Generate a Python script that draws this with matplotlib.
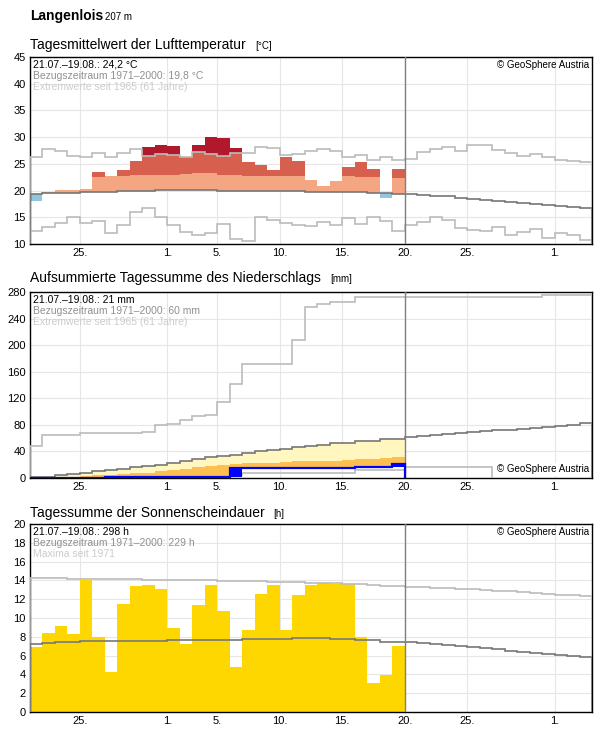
import numpy as np
import matplotlib
matplotlib.use("Agg")
import matplotlib.pyplot as plt

plt.rcParams['font.family'] = ['Liberation Sans', 'DejaVu Sans']

N = 45
tick_pos = [4, 11, 15, 20, 25, 30, 35, 42]
tick_labels = ['25.', '1.', '5.', '10.', '15.', '20.', '25.', '1.']

# temperature
temp = [18.0, 19.7, 20.1, 20.1, 20.3, 23.4, 22.8, 23.8, 25.5, 28.2, 28.6, 28.4, 26.2, 28.6, 30.1,
        29.8, 28.0, 25.3, 24.7, 23.9, 26.2, 25.6, 22.0, 20.9, 21.8, 24.5, 25.4, 24.1, 18.7, 24.0]
temp_mean = [19.4, 19.5, 19.6, 19.6, 19.7, 19.8, 19.8, 19.9, 19.9, 20.0, 20.1, 20.1, 20.1, 20.1, 20.1,
             20.0, 20.0, 20.0, 20.0, 20.0, 19.9, 19.9, 19.8, 19.8, 19.8, 19.8, 19.7, 19.6, 19.5, 19.4,
             19.3, 19.2, 19.0, 18.9, 18.7, 18.5, 18.3, 18.1, 17.9, 17.7, 17.5, 17.3, 17.1, 16.9, 16.7]
temp_p = [20.0, 20.1, 20.2, 20.3, 20.4, 22.6, 22.8, 22.8, 22.9, 23.0, 23.0, 23.0, 23.1, 23.2, 23.2,
          23.0, 23.0, 22.8, 22.8, 22.8, 22.8, 22.8, 22.7, 22.7, 22.7, 22.8, 22.6, 22.6, 22.5, 22.3]
temp_max = [26.3, 27.7, 27.4, 26.5, 26.3, 27.0, 26.3, 27.0, 27.7, 26.4, 26.8, 26.7, 26.2, 27.2, 26.8,
            26.5, 27.0, 27.0, 28.2, 27.9, 26.7, 26.9, 27.5, 27.7, 27.5, 26.3, 26.6, 25.8, 26.3, 25.8,
            26.0, 27.2, 27.8, 28.2, 27.5, 28.6, 28.5, 27.6, 27.0, 26.4, 26.9, 26.3, 25.8, 25.5, 25.3]
temp_min = [12.4, 13.1, 14.0, 15.0, 13.9, 14.3, 12.0, 13.5, 15.9, 16.7, 15.0, 13.6, 12.2, 11.7, 12.0,
            13.7, 11.0, 10.6, 15.0, 14.5, 14.0, 13.6, 13.3, 14.2, 13.5, 14.8, 13.7, 15.0, 14.3, 12.4,
            13.5, 14.2, 15.0, 14.5, 13.0, 12.6, 12.4, 13.2, 11.6, 12.2, 12.8, 11.2, 12.1, 11.6, 10.8]

# precipitation (cumulative)
prec = [0, 0, 0, 0, 0, 0, 1, 1, 1, 1, 1, 1, 1, 1, 1, 2, 15, 15, 15, 15, 15, 15, 15, 15, 15, 15, 16, 16, 17, 21]
prec_p = [0, 1, 1, 2, 3, 4, 5, 6, 7, 8, 10, 12, 14, 16, 18, 20, 21, 22, 22, 23, 24, 25, 26, 25, 26,
          27, 28, 29, 30, 31]
prec_mean = [1, 2, 4, 6, 8, 10, 12, 14, 16, 18, 20, 22, 25, 28, 31, 33, 35, 38, 40, 42, 44, 46, 48, 50, 52,
             53, 55, 56, 58, 59, 61, 63, 65, 66, 67, 69, 71, 72, 73, 74, 75, 77, 78, 80, 83]
prec_max = [48, 64, 64, 64, 67, 67, 67, 67, 67, 70, 80, 82, 88, 94, 95, 115, 141, 171, 171, 171, 171,
            207, 257, 262, 265, 265, 273, 273, 273, 273, 273, 273, 273, 273, 273, 273, 273, 273, 273,
            273, 273, 276, 276, 276, 276]
prec_min = [0, 0, 0, 0, 0, 0, 0, 0, 0, 0, 0, 0, 0, 0, 2, 2, 4, 8, 8, 8, 8, 8, 8, 8, 8, 8, 12, 12, 12, 12,
            16, 16, 16, 16, 16, 16, 16]

# sunshine
sun = [6.9, 8.4, 9.2, 8.3, 14.0, 8.0, 4.3, 11.5, 13.4, 13.5, 13.1, 8.9, 7.2, 11.4, 13.5, 10.7, 4.8, 8.7,
       12.6, 13.5, 8.7, 12.5, 13.5, 13.7, 13.6, 13.6, 8.0, 3.1, 3.9, 7.0]
sun_mean = [7.2, 7.3, 7.4, 7.5, 7.6, 7.6, 7.6, 7.6, 7.6, 7.6, 7.6, 7.7, 7.7, 7.7, 7.7, 7.7, 7.7, 7.8,
            7.8, 7.8, 7.8, 7.9, 7.9, 7.9, 7.8, 7.8, 7.7, 7.7, 7.5, 7.5, 7.4, 7.3, 7.2, 7.1, 7.0, 6.9,
            6.8, 6.7, 6.5, 6.4, 6.3, 6.2, 6.1, 6.0, 5.9]
sun_max = [14.3, 14.3, 14.3, 14.2, 14.2, 14.2, 14.1, 14.1, 14.1, 14.0, 14.0, 14.0, 14.0, 14.0, 14.0,
           13.9, 13.9, 13.9, 13.9, 13.8, 13.8, 13.8, 13.7, 13.7, 13.7, 13.6, 13.6, 13.5, 13.4, 13.4,
           13.3, 13.3, 13.2, 13.2, 13.1, 13.1, 13.0, 12.9, 12.9, 12.8, 12.7, 12.6, 12.5, 12.4, 12.3]

fig = plt.figure(figsize=(5.96, 7.29), dpi=100)
W, H = 596, 729
def mkax(top, bottom):
    return fig.add_axes([30 / W, 1 - bottom / H, (592 - 30) / W, (bottom - top) / H])

ax1 = mkax(57, 244)
ax2 = mkax(292, 478)
ax3 = mkax(524, 712)

edges = np.arange(N + 1)
LG = '#bbbbbb'
DG = '#777777'

def style(ax, yt, ylim):
    ax.set_xlim(0, N)
    ax.set_ylim(*ylim)
    ax.set_yticks(yt)
    ax.set_xticks(tick_pos)
    ax.set_xticklabels(tick_labels)
    ax.tick_params(labelsize=8, length=0, pad=3)
    ax.grid(True, color='#e6e6e6', lw=0.8)
    ax.set_axisbelow(True)
    for s in ax.spines.values():
        s.set_linewidth(1)
    ax.axvline(30, color='#808080', lw=1, zorder=5)

def info(ax, l1, l2, l3):
    ax.text(0.006, 0.985, l1, transform=ax.transAxes, fontsize=7.5, va='top', color='black', zorder=10)
    ax.text(0.006, 0.925, l2, transform=ax.transAxes, fontsize=7.5, va='top', color='#909090', zorder=10)
    ax.text(0.006, 0.865, l3, transform=ax.transAxes, fontsize=7.5, va='top', color='#cccccc', zorder=10)

# --- Temperature
style(ax1, range(10, 46, 5), (10, 45))
n = len(temp)
x = np.arange(n)
for i in range(n):
    v, m, p, mx = temp[i], temp_mean[i], temp_p[i], temp_max[i]
    if v < m:
        ax1.bar(i, m - v, bottom=v, width=1, align='edge', color='#92c5de', lw=0)
    else:
        a = min(v, p)
        ax1.bar(i, a - m, bottom=m, width=1, align='edge', color='#f4a582', lw=0)
        if v > p:
            b = min(v, mx)
            ax1.bar(i, b - p, bottom=p, width=1, align='edge', color='#d6604d', lw=0)
        if v > mx:
            ax1.bar(i, v - mx, bottom=mx, width=1, align='edge', color='#b2182b', lw=0)
ax1.stairs(temp_max, edges, color=LG, lw=1.2, zorder=4)
ax1.stairs(temp_min, edges, color=LG, lw=1.2, zorder=4)
ax1.stairs(temp_mean, edges, color=DG, lw=1.2, zorder=4)
info(ax1, '21.07.–19.08.: 24,2 °C', 'Bezugszeitraum 1971–2000: 19,8 °C', 'Extremwerte seit 1965 (61 Jahre)')
ax1.text(0.995, 0.985, '© GeoSphere Austria', transform=ax1.transAxes, fontsize=7, va='top', ha='right')

# --- Precipitation
style(ax2, range(0, 281, 40), (0, 280))
for i in range(n):
    v, p, m = prec[i], prec_p[i], prec_mean[i]
    lo = max(v, p)
    if p > v:
        ax2.bar(i, p - v, bottom=v, width=1, align='edge', color='#fdbf4f', lw=0)
    ax2.bar(i, m - lo, bottom=lo, width=1, align='edge', color='#fff6c0', lw=0)
    prev = prec[i - 1] if i > 0 else 0
    if v > prev:
        ax2.bar(i, v - prev, bottom=prev, width=1, align='edge', color='#0000ff', lw=0, zorder=6)
ax2.stairs(prec_max, edges, color=LG, lw=1.2, zorder=4)
ax2.stairs(prec_min, np.arange(len(prec_min) + 1), color=LG, lw=1.2, zorder=4)
ax2.stairs(prec_mean, edges, color=DG, lw=1.2, zorder=4)
ax2.stairs(prec, np.arange(n + 1), color='#0000ff', lw=1.6, zorder=6)
info(ax2, '21.07.–19.08.: 21 mm', 'Bezugszeitraum 1971–2000: 60 mm', 'Extremwerte seit 1965 (61 Jahre)')
ax2.text(0.995, 0.02, '© GeoSphere Austria', transform=ax2.transAxes, fontsize=7, va='bottom', ha='right',
         bbox=dict(fc='white', ec='none', pad=1), zorder=10)

# --- Sunshine
style(ax3, range(0, 21, 2), (0, 20))
ax3.bar(x, sun, width=1, align='edge', color='#ffd700', lw=0)
ax3.stairs(sun_max, edges, color=LG, lw=1.2, zorder=4)
ax3.stairs(sun_mean, edges, color=DG, lw=1.2, zorder=4)
info(ax3, '21.07.–19.08.: 298 h', 'Bezugszeitraum 1971–2000: 229 h', 'Maxima seit 1971')
ax3.text(0.995, 0.985, '© GeoSphere Austria', transform=ax3.transAxes, fontsize=7, va='top', ha='right')

# titles
fig.text(30 / W, 1 - 16 / H, 'Langenlois', fontsize=10, fontweight='bold', va='center')
fig.text(105 / W, 1 - 17 / H, '207 m', fontsize=7, va='center')
def ptitle(y, main, unit, xu):
    fig.text(30 / W, 1 - y / H, main, fontsize=10, va='center')
    fig.text(xu / W, 1 - (y + 1) / H, unit, fontsize=7, va='center')
ptitle(45, 'Tagesmittelwert der Lufttemperatur', '[°C]', 255)
ptitle(278, 'Aufsummierte Tagessumme des Niederschlags', '[mm]', 330)
ptitle(513, 'Tagessumme der Sonnenscheindauer', '[h]', 273)

fig.savefig('out.png', dpi=100)
